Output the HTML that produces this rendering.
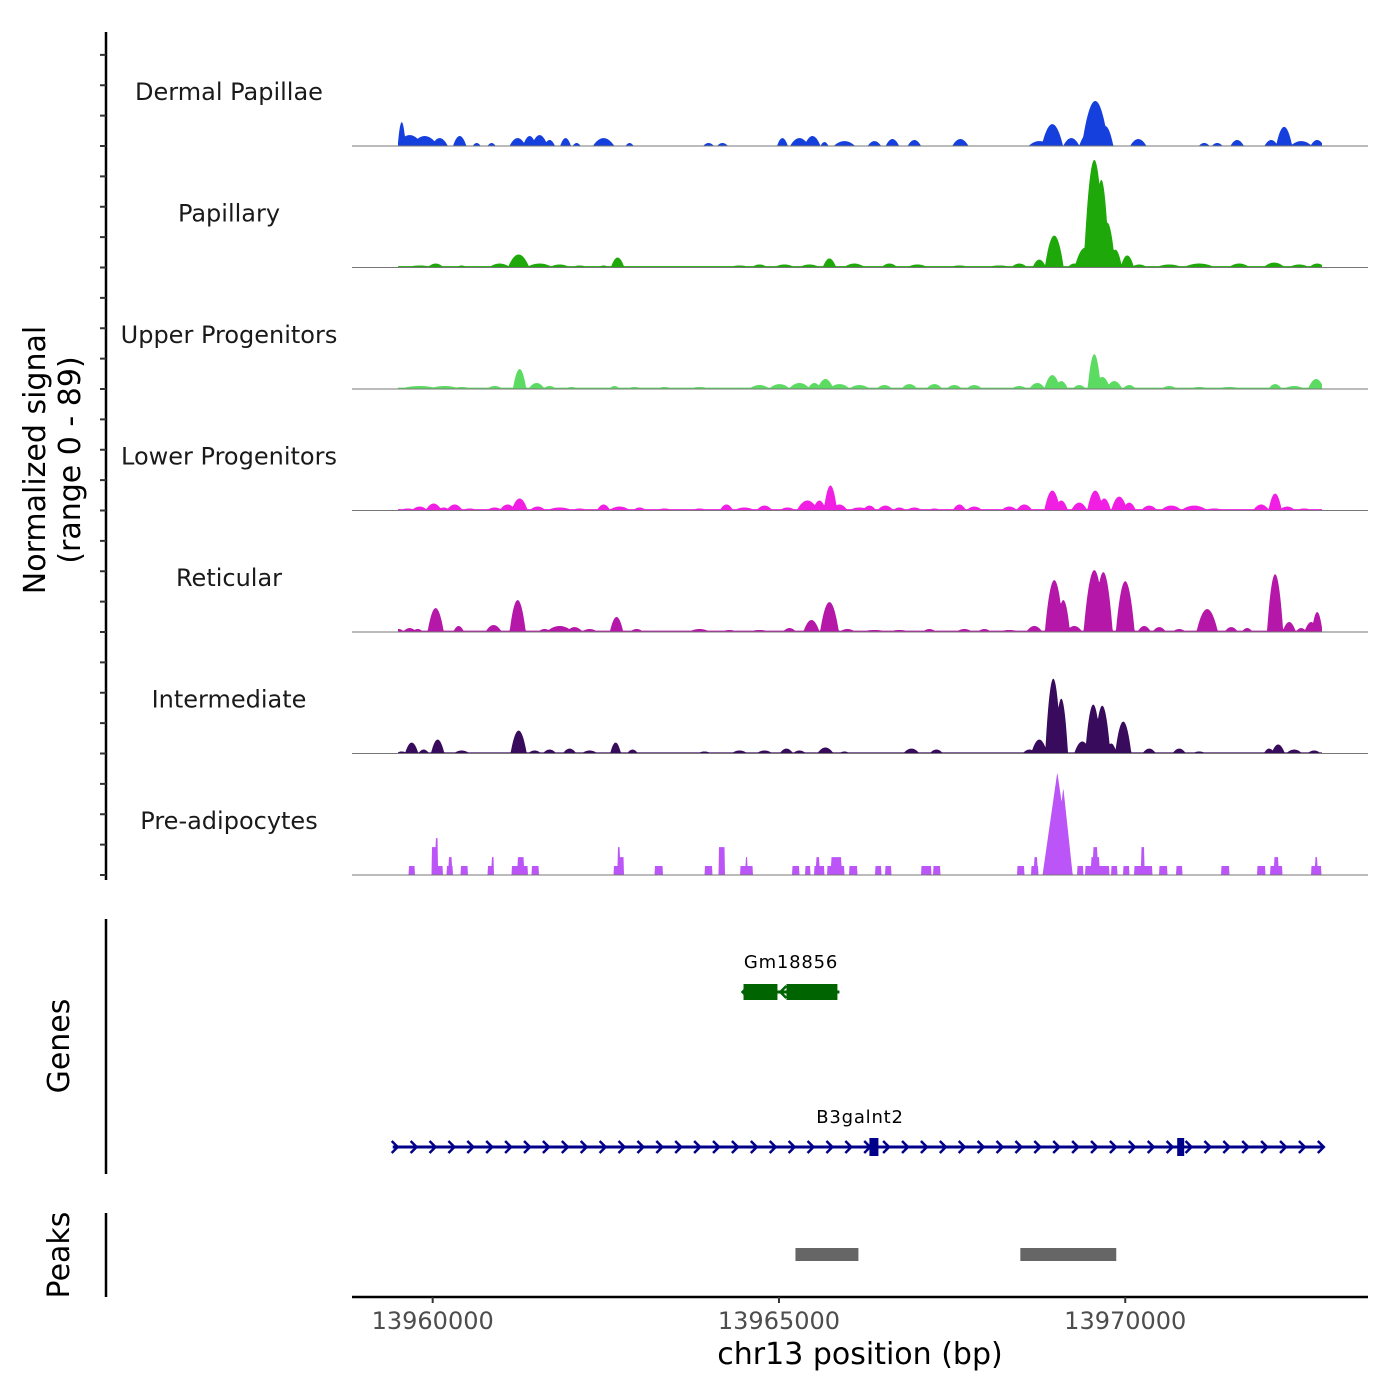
<!DOCTYPE html>
<html><head><meta charset="utf-8">
<style>
html,body{margin:0;padding:0;background:#fff;}
svg{display:block;font-family:"DejaVu Sans","Liberation Sans",sans-serif;}
</style></head>
<body>
<svg id="chart" width="1400" height="1400" viewBox="0 0 1400 1400">
  <g id="tracks"></g>
  <g id="axes"></g>
  <text x="54" y="460" font-size="30" text-anchor="middle" transform="rotate(-90 54 460)"><tspan x="54" dy="-9">Normalized signal</tspan><tspan x="54" dy="35">(range 0 - 89)</tspan></text>
  <text x="69" y="1046" font-size="30" text-anchor="middle" transform="rotate(-90 69 1046)">Genes</text>
  <text x="69" y="1255" font-size="30" text-anchor="middle" transform="rotate(-90 69 1255)">Peaks</text>
  <text x="860" y="1364" font-size="30" text-anchor="middle">chr13 position (bp)</text>
</svg>
<script>
// ---- data ----
const trackNames = ["Dermal Papillae","Papillary","Upper Progenitors","Lower Progenitors","Reticular","Intermediate","Pre-adipocytes"];
const trackColors = ["#1540de","#1ea80a","#5cdb62","#f01fe3","#b517a8","#390b5c","#bb55f7"];
const yMax = 89;
const xTicks = [13960000,13965000,13970000];
const xTickLabels = ["13960000","13965000","13970000"];

const dpPos=[13959553,13959668,13959885,13960101,13960390,13960635,13960851,13961227,13961400,13961544,13961688,13961919,13962078,13962468,13962843,13963983,13964185,13965050,13965296,13965483,13965657,13965945,13966378,13966638,13966955,13967619,13968759,13968947,13969221,13969452,13969567,13969711,13970188,13971140,13971328,13971616,13972107,13972294,13972540,13972771];
const dpVal=[17.5,8,7.3,5.8,7.3,2.2,2.2,5.8,7.3,8,4.4,5.8,2.2,5.8,2.2,2.2,2.2,5.8,5.8,7.3,2.9,3.6,3.6,5.1,4.4,5.1,3.6,16,5.8,8.8,33,14.6,5.1,2.2,2.2,4.4,4.4,14,3.6,4.4];
const dpWid=[43,144,144,87,72,43,43,87,72,87,58,58,43,115,43,58,58,58,101,87,43,115,72,72,72,87,115,115,87,87,144,87,87,58,58,72,72,87,115,72];

const paPos=[13959812,13960043,13960418,13960967,13961241,13961544,13961833,13962121,13962468,13962670,13963276,13964430,13964719,13965079,13965440,13965729,13966089,13966595,13966999,13967605,13968182,13968470,13968759,13968975,13969264,13969423,13969553,13969654,13969740,13969856,13970029,13970202,13970635,13971068,13971645,13972150,13972511,13972771];
const paVal=[1.5,2.9,1.5,2.9,9.5,2.9,2.2,1.5,1.5,7.3,0.7,1.5,2.2,2.2,2.2,6.6,2.9,2.9,2.2,1.5,1.5,2.9,5.8,23.4,2.9,14.6,78.8,64.2,32.9,13.1,8.8,2.2,2.2,2.9,2.9,3.6,2.2,2.9];
const paWid=[144,87,58,115,115,144,115,87,58,72,144,115,87,115,115,72,115,87,115,115,144,87,72,101,72,115,115,87,87,72,72,87,144,173,115,115,115,87];

const upPos=[13959812,13960173,13960418,13960895,13961255,13961501,13961688,13962006,13962626,13962915,13963348,13963853,13964719,13965007,13965296,13965512,13965671,13965873,13966162,13966522,13966883,13967244,13967532,13967821,13968470,13968730,13968947,13969076,13969336,13969553,13969668,13969841,13970058,13970635,13971068,13971501,13972164,13972439,13972756];
const upVal=[2.2,2.2,1.5,2.2,14.6,4.4,2.2,1.5,2.2,1.5,1.5,1.5,2.9,3.6,4.4,4.4,7.3,3.6,2.9,2.9,3.6,3.6,2.9,2.9,2.2,4.4,10.2,5.8,2.9,25.5,8.8,5.8,2.9,2.2,1.5,1.5,3.6,2.2,7.3];
const upWid=[216,173,115,87,72,87,72,72,58,87,87,115,115,115,115,72,87,115,115,87,87,87,87,87,87,87,87,72,72,72,87,87,72,87,115,144,72,115,87];

const loPos=[13959639,13959812,13960014,13960159,13960317,13960534,13960895,13961082,13961255,13961515,13961833,13962121,13962468,13962698,13962987,13963348,13963853,13964242,13964502,13964791,13965123,13965411,13965584,13965743,13965873,13966162,13966306,13966537,13966739,13966955,13967244,13967605,13967821,13968326,13968543,13968947,13969076,13969336,13969567,13969697,13969913,13970058,13970346,13970664,13970996,13971284,13971962,13972164,13972338,13972583];
const loVal=[1.5,2.9,5.1,2.2,4.4,1.5,2.2,4.4,8.8,2.9,2.2,1.5,4.4,2.9,2.2,1.5,1.5,4.4,2.2,3.6,2.2,7.3,7.3,18.3,4.4,2.2,3.6,3.6,2.2,2.2,1.5,4.4,2.9,2.9,4.4,14.6,7.3,5.8,14.6,8.8,10.2,5.8,3.6,3.6,3.6,1.5,4.4,12.4,2.9,1.5];
const loWid=[87,87,87,72,87,87,87,87,87,87,144,87,72,115,72,87,87,72,115,87,87,115,72,72,87,115,72,87,72,87,72,72,87,87,87,87,72,87,87,72,87,72,87,115,144,115,87,72,87,87];

const rePos=[13959509,13959668,13959784,13960043,13960375,13960880,13961227,13961616,13961833,13962049,13962266,13962655,13962944,13963853,13964286,13964719,13965152,13965469,13965729,13965988,13966378,13966739,13967172,13967677,13967965,13968326,13968687,13968975,13969105,13969264,13969553,13969683,13970000,13970274,13970491,13970779,13971183,13971530,13971760,13972164,13972367,13972540,13972684,13972771];
const reVal=[2.2,2.9,2.2,17.5,4.4,5.1,23.4,2.2,4.4,3.6,2.2,11,2.2,2.2,1.5,1.5,2.9,8.8,21.9,2.2,1.5,1.5,2.2,2.2,2.2,1.5,4.4,38,23.4,4.4,45.3,43.8,37.2,4.4,3.6,2.2,16.8,3.6,2.9,42.3,7.3,2.9,7.3,14.6];
const reWid=[58,72,58,87,58,87,87,72,144,87,87,72,72,115,87,115,72,87,101,87,144,115,72,87,72,115,87,101,72,87,115,101,101,72,72,72,115,72,58,87,72,58,72,58];

const inPos=[13959553,13959697,13959870,13960072,13960418,13960606,13960967,13961241,13961472,13961688,13961977,13962266,13962641,13962886,13963564,13963925,13964430,13964791,13965108,13965296,13965671,13965945,13966378,13966912,13967273,13967605,13968615,13968759,13968961,13969076,13969380,13969538,13969668,13969798,13969971,13970346,13970779,13971068,13971429,13972078,13972208,13972439,13972727];
const inVal=[1.5,8,2.9,10.2,2.2,0.7,0.7,16.8,2.2,2.9,3.6,2.2,8,2.9,0.7,1.5,2.2,2.2,3.6,2.2,4.4,1.5,0.7,3.6,2.9,0.7,2.9,10.2,54.8,40.2,8.8,35.8,35,7.3,23.4,3.6,3.6,1.5,0.7,3.6,6.6,2.9,2.2];
const inWid=[58,72,58,72,87,72,87,87,72,72,72,87,58,58,216,72,87,87,72,72,87,58,115,87,72,87,72,87,87,72,87,87,87,58,87,72,72,72,87,58,72,87,72];

const prPos=[13969019,13969105,13968947];
const prVal=[75.3,64.2,29.2];
const prWid=[158,101,72];
const prBlockStart=[13959654,13959986,13959986,13960043,13960202,13960231,13960404,13960794,13960851,13961140,13961227,13961429,13962612,13962670,13962698,13963203,13963925,13964127,13964444,13964517,13965195,13965382,13965512,13965541,13965700,13965758,13966017,13966392,13966537,13967056,13967229,13968442,13968644,13968687,13969307,13969423,13969509,13969538,13969798,13969971,13970130,13970231,13970491,13970736,13971385,13971905,13972092,13972150,13972684,13972742];
const prBlockEnd=[13959740,13960144,13960058,13960072,13960289,13960274,13960505,13960880,13960880,13961371,13961313,13961530,13962756,13962698,13962756,13963319,13964040,13964214,13964618,13964545,13965296,13965455,13965657,13965584,13965945,13965902,13966133,13966479,13966623,13967201,13967330,13968543,13968745,13968730,13969394,13969769,13969625,13969596,13969885,13970058,13970390,13970274,13970606,13970823,13971501,13972020,13972266,13972208,13972828,13972771];
const prBlockVal=[6.6,6.6,20.4,27,6.6,13.1,6.6,6.6,13.1,6.6,13.1,6.6,6.6,20.4,13.1,6.6,6.6,20.4,6.6,13.1,6.6,6.6,6.6,13.1,6.6,13.1,6.6,6.6,6.6,6.6,6.6,6.6,6.6,13.1,6.6,6.6,13.1,20.4,6.6,6.6,6.6,20.4,6.6,6.6,6.6,6.6,6.6,13.1,6.6,13.1];

const trackPeaks=[[dpPos,dpVal,dpWid],[paPos,paVal,paWid],[upPos,upVal,upWid],[loPos,loVal,loWid],[rePos,reVal,reWid],[inPos,inVal,inWid],[prPos,prVal,prWid]];
const trackFloor=[0,1.0,1.0,1.0,1.0,0.8,0];

const geneNames=["Gm18856","B3galnt2"];
const geneStart=[13964488,13959423];
const geneEnd=[13965873,13972843];
const geneStrand=[-1,1];
const exonGene=[0,0,1,1];
const exonStart=[13964488,13965108,13966306,13970750];
const exonEnd=[13964978,13965844,13966436,13970851];
const peakStart=[13965238,13968485];
const peakEnd=[13966147,13969870];

// ---- scales ----
const NS="http://www.w3.org/2000/svg";
const x0px=352,x1px=1368;
const dom0=13958835,dom1=13973505;
function xs(bp){return x0px+(bp-dom0)/(dom1-dom0)*(x1px-x0px);}
function xinv(px){return dom0+(px-x0px)/(x1px-x0px)*(dom1-dom0);}
const trackH=121.5, base0=146;
function baseY(i){return base0+i*trackH;}
function ys(i,v){return baseY(i)-Math.min(v,yMax)/yMax*trackH;}
const dataStart=13959495,dataEnd=13972843;
const widthScale=1.35;

function mk(tag,attrs,parent){const e=document.createElementNS(NS,tag);for(const k in attrs)e.setAttribute(k,attrs[k]);parent.appendChild(e);return e;}
const tracksG=document.getElementById('tracks');
const axesG=document.getElementById('axes');

for(let i=0;i<7;i++){
  const [P,V,W]=trackPeaks[i];
  const g=mk('g',{},tracksG);
  
  
  const px0=Math.round(xs(dataStart)),px1=Math.round(xs(dataEnd));
  let d='M'+px0+' '+baseY(i);
  for(let px=px0;px<=px1;px+=0.5){
    const bp=xinv(px);
    let v=trackFloor[i];
    for(let k=0;k<P.length;k++){const t=Math.abs(bp-P[k])/(W[k]*widthScale);if(t<1){const s=i===6?(1-t):(1-t*t);v=Math.max(v,V[k]*s);}}
    if(i===6){for(let k=0;k<prBlockStart.length;k++){if(bp>=prBlockStart[k]&&bp<=prBlockEnd[k])v=Math.max(v,prBlockVal[k]);}}
    d+='L'+px.toFixed(1)+' '+ys(i,v).toFixed(2);
  }
  d+='L'+px1+' '+baseY(i)+'Z';
  const area=mk('path',{d:d,fill:trackColors[i]},g);
  
  
  const bl=mk('line',{x1:x0px,x2:x1px,y1:baseY(i),y2:baseY(i),stroke:'#777',"stroke-width":1},g);
  
  
  const lab=mk('text',{x:229,y:baseY(i)-46,"font-size":24,"text-anchor":"middle",fill:'#1a1a1a'},g);
  lab.textContent=trackNames[i];
  
  
}

// left signal axis
const sa=mk('line',{x1:106,x2:106,y1:32,y2:880,stroke:'#000',"stroke-width":2.5},axesG);


for(let i=0;i<7;i++){for(let k=0;k<4;k++){
  const y=baseY(i)-k*trackH/4;
  const t=mk('line',{x1:100,x2:106,y1:y,y2:y,stroke:'#333',"stroke-width":2},axesG);
  
  
}}
const gAx=mk('line',{x1:106,x2:106,y1:919,y2:1174,stroke:'#000',"stroke-width":2.5},axesG);


const pAx=mk('line',{x1:106,x2:106,y1:1213,y2:1297,stroke:'#000',"stroke-width":2.5},axesG);



// genes
const geneY=[992,1147],geneCol=["#006400","#00008b"];
for(let gI=0;gI<geneNames.length;gI++){
  const g=mk('g',{},axesG);
  
  
  const y=geneY[gI],c=geneCol[gI];
  const xa=xs(geneStart[gI]),xb=xs(geneEnd[gI]);
  const ln=mk('line',{x1:xa,x2:xb,y1:y,y2:y,stroke:c,"stroke-width":3},g);
  
  
  for(let ax=xa+2;ax<=xb;ax+=18.9){
    const s=geneStrand[gI];
    const ar=mk('path',{d:`M${ax-3*s} ${y-6}L${ax+3*s} ${y}L${ax-3*s} ${y+6}`,stroke:c,"stroke-width":2.5,fill:'none'},g);
    
    
  }
  for(let e=0;e<exonGene.length;e++){ if(exonGene[e]!==gI)continue;
    const h=gI===0?16:18;
    const r=mk('rect',{x:xs(exonStart[e]),y:y-h/2,width:xs(exonEnd[e])-xs(exonStart[e]),height:h,fill:c},g);
    
    
  }
  const lb=mk('text',{x:(gI===0?791:860),y:y-24,"font-size":18,"text-anchor":"middle",fill:'#000',"letter-spacing":"0.8"},g);
  lb.textContent=geneNames[gI];
  
  
}
// peaks
for(let k=0;k<peakStart.length;k++){
  const r=mk('rect',{x:xs(peakStart[k]),y:1248,width:xs(peakEnd[k])-xs(peakStart[k]),height:13,fill:'#666'},axesG);
  
  
}
// x axis
const xa=mk('line',{x1:352,x2:1368,y1:1297,y2:1297,stroke:'#000',"stroke-width":2.5},axesG);


for(let k=0;k<xTicks.length;k++){
  const x=xs(xTicks[k]);
  const t=mk('line',{x1:x,x2:x,y1:1297,y2:1303,stroke:'#333',"stroke-width":2},axesG);
  
  
  const tl=mk('text',{x:x,y:1329,"font-size":24,"text-anchor":"middle",fill:'#4d4d4d'},axesG);
  tl.textContent=xTickLabels[k];
  
  
}
</script>
</body></html>
